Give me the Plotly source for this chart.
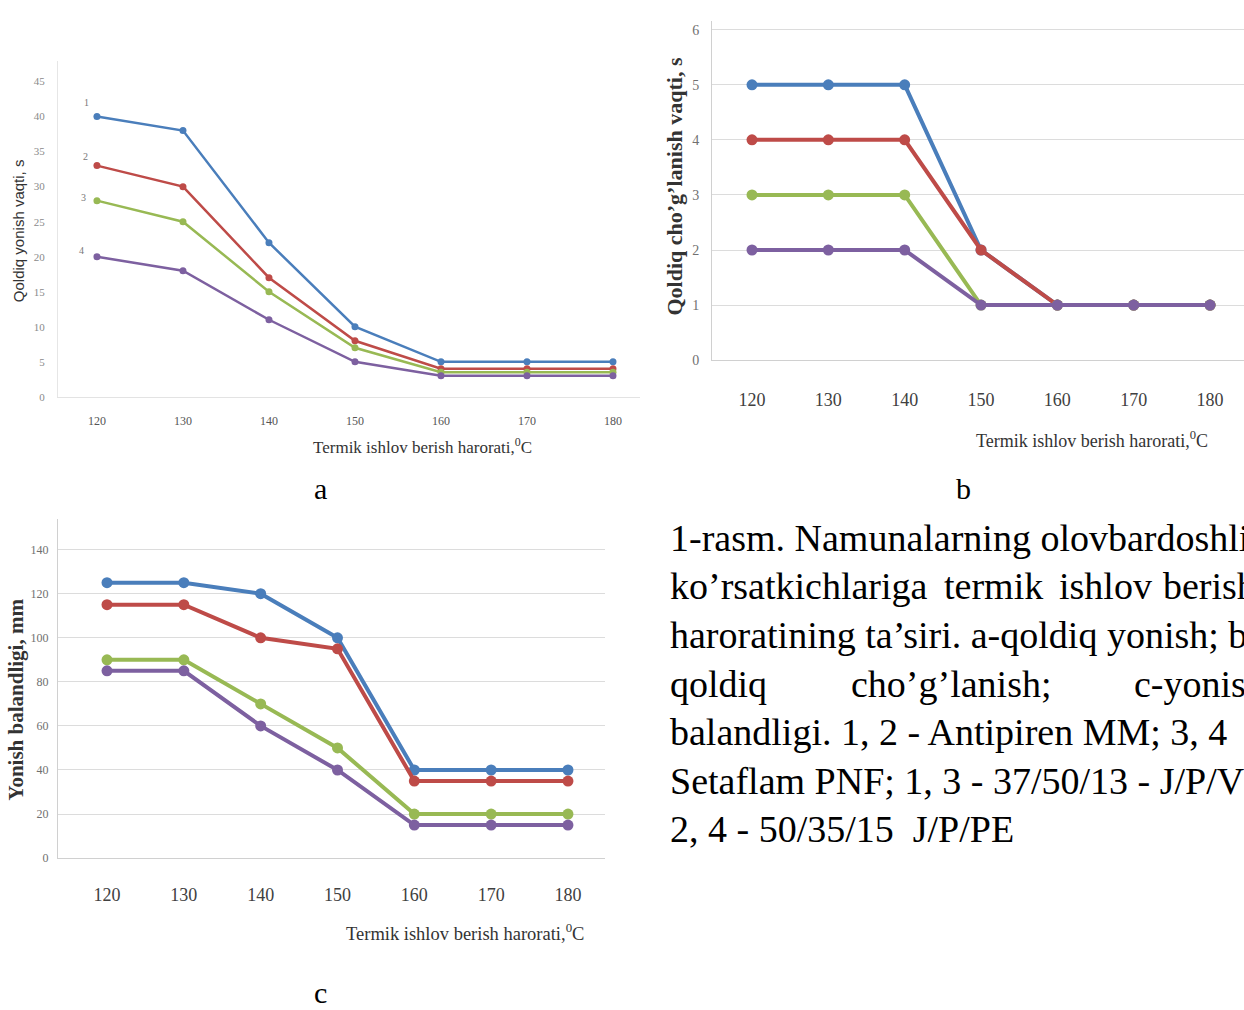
import plotly.graph_objects as go

W, H = 1244, 1010

temps = [120, 130, 140, 150, 160, 170, 180]
series_names = ["1", "2", "3", "4"]
colors = ["#4A7EBB", "#BE4B48", "#98B954", "#7D60A0"]

# Chart a: Qoldiq yonish vaqti, s
a_s1 = [40, 38, 22, 10, 5, 5, 5]
a_s2 = [33, 30, 17, 8, 4, 4, 4]
a_s3 = [28, 25, 15, 7, 3.5, 3.5, 3.5]
a_s4 = [20, 18, 11, 5, 3, 3, 3]

# Chart b: Qoldiq cho'g'lanish vaqti, s
b_s1 = [5, 5, 5, 2, 1, 1, 1]
b_s2 = [4, 4, 4, 2, 1, 1, 1]
b_s3 = [3, 3, 3, 1, 1, 1, 1]
b_s4 = [2, 2, 2, 1, 1, 1, 1]

# Chart c: Yonish balandligi, mm
c_s1 = [125, 125, 120, 100, 40, 40, 40]
c_s2 = [115, 115, 100, 95, 35, 35, 35]
c_s3 = [90, 90, 70, 50, 20, 20, 20]
c_s4 = [85, 85, 60, 40, 15, 15, 15]

a_ticks = [0, 5, 10, 15, 20, 25, 30, 35, 40, 45]
b_ticks = [0, 1, 2, 3, 4, 5, 6]
c_ticks = [0, 20, 40, 60, 80, 100, 120, 140]

x_title = "Termik ishlov berish harorati,<sup>0</sup>C"

caption_lines = [
    "1-rasm. Namunalarning olovbardoshli",
    None,
    "haroratining ta’siri. a-qoldiq yonish; b",
    None,
    "balandligi. 1, 2 - Antipiren MM; 3, 4",
    "Setaflam PNF; 1, 3 - 37/50/13 - J/P/V",
    "2, 4 - 50/35/15  J/P/PE",
]
line2_words = ["ko’rsatkichlariga", "termik", "ishlov", "berish"]
line4_words = ["qoldiq", "cho’g’lanish;", "c-yonish"]


def px(x):
    return x / W


def py(y):
    return 1 - y / H


fig = go.Figure()

for i, ys in enumerate([a_s1, a_s2, a_s3, a_s4]):
    fig.add_trace(go.Scatter(x=temps, y=ys, mode="lines+markers", name=series_names[i],
                             line=dict(color=colors[i], width=2.5),
                             marker=dict(color=colors[i], size=7, symbol="circle"),
                             xaxis="x", yaxis="y", showlegend=False))
for i, ys in enumerate([b_s1, b_s2, b_s3, b_s4]):
    fig.add_trace(go.Scatter(x=temps, y=ys, mode="lines+markers", name=series_names[i],
                             line=dict(color=colors[i], width=4),
                             marker=dict(color=colors[i], size=11, symbol="circle"),
                             xaxis="x2", yaxis="y2", showlegend=False))
for i, ys in enumerate([c_s1, c_s2, c_s3, c_s4]):
    fig.add_trace(go.Scatter(x=temps, y=ys, mode="lines+markers", name=series_names[i],
                             line=dict(color=colors[i], width=4),
                             marker=dict(color=colors[i], size=11, symbol="circle"),
                             xaxis="x3", yaxis="y3", showlegend=False))

serif = "Liberation Serif"

fig.update_layout(
    width=W, height=H,
    margin=dict(l=0, r=0, t=0, b=0),
    paper_bgcolor="white", plot_bgcolor="rgba(0,0,0,0)",
    # chart a
    xaxis=dict(domain=[px(58), px(640)], range=[115.47, 183.14], tickvals=temps,
               showgrid=False, zeroline=False, showline=True, linecolor="#E3E3E3",
               ticks="", tickfont=dict(family=serif, size=12, color="#555555"),
               ticklabelstandoff=13, anchor="y"),
    yaxis=dict(domain=[py(400), py(61)], range=[0, 48], tickvals=a_ticks,
               showgrid=False, zeroline=False, showline=True, linecolor="#E6E6E6",
               ticks="", tickfont=dict(family=serif, size=11, color="#8A8A8A"),
               ticklabelstandoff=10, anchor="x"),
    # chart b
    xaxis2=dict(domain=[px(712), px(1244)], range=[114.76, 184.45], tickvals=temps,
                showgrid=False, zeroline=False, showline=True, linecolor="#D0D0D0",
                ticks="", tickfont=dict(family=serif, size=18, color="#404040"),
                ticklabelstandoff=23, anchor="y2"),
    yaxis2=dict(domain=[py(363), py(21)], range=[0, 6.162], tickvals=b_ticks,
                showgrid=True, gridcolor="#DCDCDC", gridwidth=1, zeroline=False,
                showline=True, linecolor="#D0D0D0",
                ticks="", tickfont=dict(family=serif, size=14, color="#707070"),
                ticklabelstandoff=9, anchor="x2"),
    # chart c
    xaxis3=dict(domain=[px(58), px(605)], range=[113.62, 184.82], tickvals=temps,
                showgrid=False, zeroline=False, showline=True, linecolor="#D0D0D0",
                ticks="", tickfont=dict(family=serif, size=18, color="#404040"),
                ticklabelstandoff=20, anchor="y3"),
    yaxis3=dict(domain=[py(865), py(523)], range=[0, 153.96], tickvals=c_ticks,
                showgrid=True, gridcolor="#DCDCDC", gridwidth=1, zeroline=False,
                showline=True, linecolor="#D0D0D0",
                ticks="", tickfont=dict(family=serif, size=12, color="#707070"),
                ticklabelstandoff=6, anchor="x3"),
)

ann = []


def add_text(x, y, text, size, family=serif, color="black", xanchor="center",
             yanchor="middle", angle=0, bold=False):
    t = f"<b>{text}</b>" if bold else text
    ann.append(dict(x=px(x), y=py(y), xref="paper", yref="paper", text=t,
                    showarrow=False, xanchor=xanchor, yanchor=yanchor,
                    textangle=angle, font=dict(family=family, size=size, color=color)))


# axis titles
add_text(18, 233, "Qoldiq yonish vaqti, s", 15, family="Liberation Sans", color="#333333", angle=-90)
add_text(422, 450, x_title, 17, color="#333333")
add_text(675, 188, "Qoldiq cho’g’lanish vaqti, s", 22, color="#333333", angle=-90, bold=True)
add_text(1092, 443, x_title, 18, color="#333333")
add_text(16, 705, "Yonish balandligi, mm", 21, color="#333333", angle=-90, bold=True)
add_text(465, 939, x_title, 18.5, color="#333333")

# series numbers in a
for lbl, (lx, ly) in zip(series_names, [(86, 103), (85, 158), (83, 199), (82, 252)]):
    add_text(lx, ly, lbl, 10, color="#777777")

# panel letters
add_text(320, 492, "a", 30)
add_text(963, 492, "b", 30)
add_text(320, 1000, "c", 30)

# caption
line_y = [542, 591, 640, 689, 738, 787, 836]
for i, line in enumerate(caption_lines):
    if line is not None:
        add_text(668, line_y[i], line, 38, xanchor="left")
for w, wx in zip(line2_words, [668, 942, 1057, 1161]):
    add_text(wx, line_y[1], w, 38, xanchor="left")
for w, wx in zip(line4_words, [668, 849, 1132]):
    add_text(wx, line_y[3], w, 38, xanchor="left")

fig.update_layout(annotations=ann)

fig.write_html("out.html")
